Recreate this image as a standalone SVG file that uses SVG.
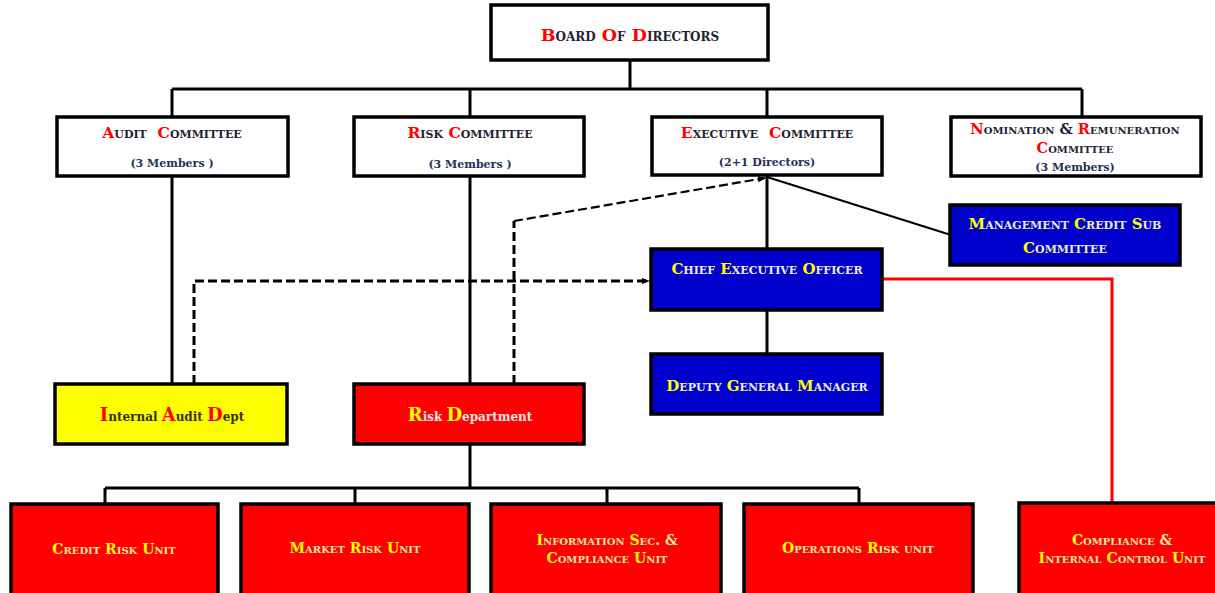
<svg xmlns="http://www.w3.org/2000/svg" width="1215" height="593" viewBox="0 0 1215 593">
<defs>
<style>
.box{stroke:#000;stroke-width:3.5}
.w{fill:#fff}.b{fill:#0000cc}.r{fill:#ff0000}.y{fill:#ffff00}
.t{font-family:"DejaVu Serif","Liberation Serif",serif;font-weight:bold;text-anchor:middle}
.sc{font-variant:small-caps}
.dk{fill:#222233}.rd{fill:#ff0000}.mem{fill:#23305e;font-size:11px}
.yl{fill:#ffff00}.pl{fill:#ecebd6}.pr{fill:#ffe89a}.pk{fill:#ffe4e4}.ol{fill:#333300}
.ln{fill:none;stroke:#000;stroke-width:3}
.ds{fill:none;stroke:#000;stroke-width:3;stroke-dasharray:9 4}
</style>
<marker id="ah" markerWidth="8" markerHeight="8" refX="7" refY="4" orient="auto" markerUnits="userSpaceOnUse">
<path d="M0,1 L8,4 L0,7 z" fill="#000"/>
</marker>
</defs>

<g id="connectors">
<path class="ln" d="M630 60 V89 M172 89 H1082 M172 89 V117 M470 89 V117 M767 89 V117 M1082 89 V117"/>
<path class="ln" d="M172 176 V384 M470 176 V384 M767 176 V249 M767 310 V354"/>
<path fill="none" stroke="#000" stroke-width="2" d="M767 177 L951 235"/>
<path fill="none" stroke="#ff0000" stroke-width="3" d="M882 279 H1112 V503"/>
<path class="ln" d="M470 444 V488 M105 488 H859 M105 488 V504 M355 488 V504 M607 488 V504 M859 488 V504"/>
<path class="ds" d="M194 384 V281 H649" marker-end="url(#ah)"/>
<path class="ds" d="M514 384 V221" />
<path fill="none" stroke="#000" stroke-width="2.2" stroke-dasharray="9 4" d="M514 221 L765 178" marker-end="url(#ah)"/>
</g>

<g id="board">
<rect class="box w" x="491" y="5" width="277" height="55"/>
<text class="t sc dk" x="630" y="41" font-size="17.5"><tspan class="rd">B</tspan>oard <tspan class="rd">O</tspan>f <tspan class="rd">D</tspan>irectors</text>
</g>

<g id="audit-committee">
<rect class="box w" x="57" y="117" width="231" height="59"/>
<text class="t sc dk" x="172" y="138" font-size="15.5" xml:space="preserve"><tspan class="rd">A</tspan>udit  <tspan class="rd">C</tspan>ommittee</text>
<text class="t mem" x="172" y="167">(3 Members )</text>
</g>

<g id="risk-committee">
<rect class="box w" x="354" y="117" width="230" height="59"/>
<text class="t sc dk" x="470" y="138" font-size="15.5"><tspan class="rd">R</tspan>isk <tspan class="rd">C</tspan>ommittee</text>
<text class="t mem" x="470" y="168">(3 Members )</text>
</g>

<g id="executive-committee">
<rect class="box w" x="652" y="117" width="230" height="58"/>
<text class="t sc dk" x="767" y="138" font-size="15.5" xml:space="preserve"><tspan class="rd">E</tspan>xecutive  <tspan class="rd">C</tspan>ommittee</text>
<text class="t mem" x="767" y="166">(2+1 Directors)</text>
</g>

<g id="nomination-committee">
<rect class="box w" x="951" y="117" width="250" height="59"/>
<text class="t sc dk" x="1075" y="134" font-size="14.6"><tspan class="rd">N</tspan>omination &amp; <tspan class="rd">R</tspan>emuneration</text>
<text class="t sc dk" x="1075" y="153" font-size="14.6"><tspan class="rd">C</tspan>ommittee</text>
<text class="t mem" x="1075" y="171">(3 Members)</text>
</g>

<g id="management-credit-sub-committee">
<rect class="box b" x="950" y="205" width="230" height="60"/>
<text class="t sc pl" x="1065" y="229" font-size="15"><tspan class="yl">M</tspan>anagement <tspan class="yl">C</tspan>redit <tspan class="yl">S</tspan>ub</text>
<text class="t sc pl" x="1065" y="253" font-size="15"><tspan class="yl">C</tspan>ommittee</text>
</g>

<g id="ceo">
<rect class="box b" x="651" y="249" width="231" height="61"/>
<text class="t sc pl" x="767" y="274" font-size="15"><tspan class="yl">C</tspan>hief <tspan class="yl">E</tspan>xecutive <tspan class="yl">O</tspan>fficer</text>
</g>

<g id="deputy-general-manager">
<rect class="box b" x="651" y="354" width="231" height="60"/>
<text class="t sc pl" x="767" y="391" font-size="15"><tspan class="yl">D</tspan>eputy <tspan class="yl">G</tspan>eneral <tspan class="yl">M</tspan>anager</text>
</g>

<g id="internal-audit-dept">
<rect class="box y" x="55" y="384" width="232" height="60"/>
<text class="t ol" x="172" y="421" font-size="12"><tspan class="rd" font-size="18">I</tspan>nternal <tspan class="rd" font-size="18">A</tspan>udit <tspan class="rd" font-size="18">D</tspan>ept</text>
</g>

<g id="risk-department">
<rect class="box r" x="354" y="384" width="230" height="60"/>
<text class="t pk" x="470" y="421" font-size="12"><tspan class="yl" font-size="18">R</tspan>isk <tspan class="yl" font-size="18">D</tspan>epartment</text>
</g>

<g id="credit-risk-unit">
<rect class="box r" x="11" y="504" width="207" height="92"/>
<text class="t sc pr" x="114" y="554" font-size="14"><tspan class="yl">C</tspan>redit <tspan class="yl">R</tspan>isk <tspan class="yl">U</tspan>nit</text>
</g>

<g id="market-risk-unit">
<rect class="box r" x="241" y="504" width="228" height="92"/>
<text class="t sc pr" x="355" y="553" font-size="14"><tspan class="yl">M</tspan>arket <tspan class="yl">R</tspan>isk <tspan class="yl">U</tspan>nit</text>
</g>

<g id="information-sec-unit">
<rect class="box r" x="491" y="504" width="230" height="92"/>
<text class="t sc pr" x="607" y="545" font-size="14"><tspan class="yl">I</tspan>nformation <tspan class="yl">S</tspan>ec. &amp;</text>
<text class="t sc pr" x="607" y="563" font-size="14"><tspan class="yl">C</tspan>ompliance <tspan class="yl">U</tspan>nit</text>
</g>

<g id="operations-risk-unit">
<rect class="box r" x="744" y="504" width="229" height="92"/>
<text class="t sc pr" x="858" y="553" font-size="14"><tspan class="yl">O</tspan>perations <tspan class="yl">R</tspan>isk unit</text>
</g>

<g id="compliance-unit">
<rect class="box r" x="1019" y="503" width="210" height="93"/>
<text class="t sc pr" x="1122" y="545" font-size="14"><tspan class="yl">C</tspan>ompliance &amp;</text>
<text class="t sc pr" x="1122" y="563" font-size="14"><tspan class="yl">I</tspan>nternal <tspan class="yl">C</tspan>ontrol <tspan class="yl">U</tspan>nit</text>
</g>
</svg>
